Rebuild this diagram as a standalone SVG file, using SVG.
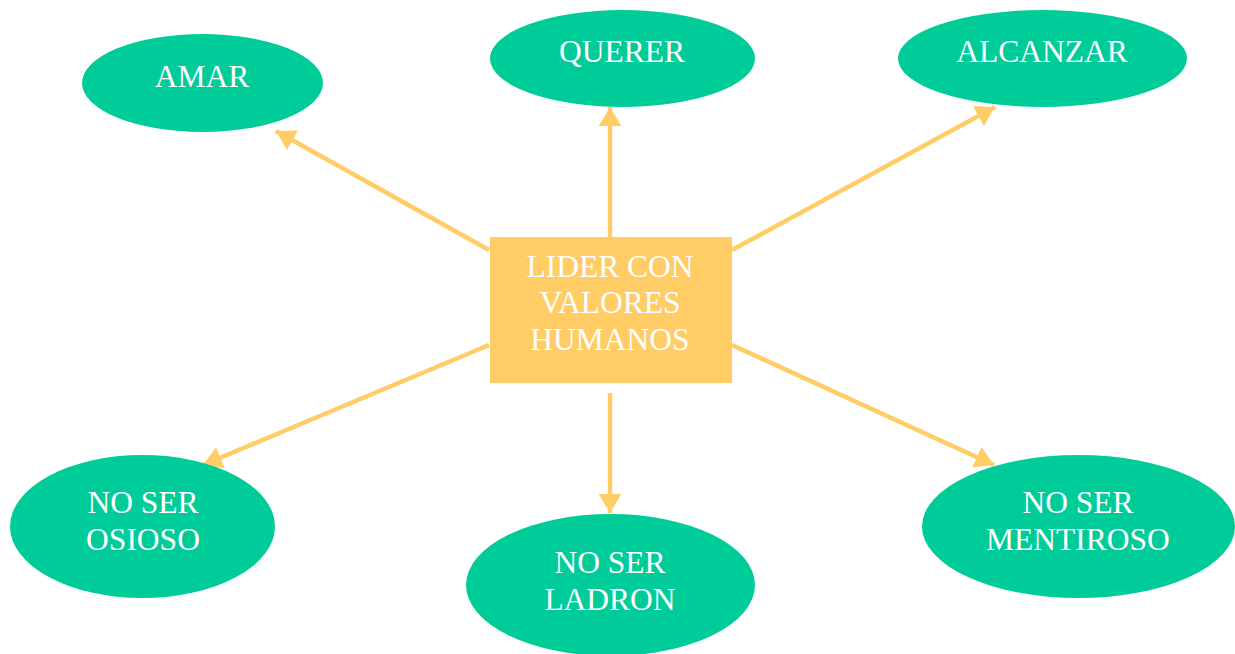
<svg xmlns="http://www.w3.org/2000/svg" width="1235" height="654" viewBox="0 0 1235 654">
<style>
.n{fill:#00CC99}
.c{fill:#FFCC66}
.t{font-family:"Liberation Serif","Times New Roman",serif;font-size:31.5px;fill:#FFFFFF;text-anchor:middle}
.a{stroke:#FFCC66;stroke-width:4.5;fill:none;marker-end:url(#ah)}
</style>
<defs>
<marker id="ah" markerWidth="5" markerHeight="5" refX="4.2" refY="2.5" orient="auto" markerUnits="strokeWidth" viewBox="0 0 5 5">
<path d="M0,0 L4.2,2.5 L0,5 Z" fill="#FFCC66"/>
</marker>
</defs>
<rect width="1235" height="654" fill="#FFFFFF"/>
<g id="connectors">
<line class="a" x1="489" y1="250" x2="276" y2="131"/>
<line class="a" x1="610" y1="237" x2="610" y2="107"/>
<line class="a" x1="732" y1="250" x2="995" y2="107"/>
<line class="a" x1="489" y1="345" x2="203" y2="465"/>
<line class="a" x1="610" y1="393" x2="610" y2="513"/>
<line class="a" x1="732" y1="345" x2="994" y2="465"/>
</g>
<g id="center">
<rect class="c" x="490" y="237" width="242" height="146"/>
<text class="t" x="610" y="277">LIDER CON</text>
<text class="t" x="610" y="313">VALORES</text>
<text class="t" x="610" y="350">HUMANOS</text>
</g>
<g id="amar">
<ellipse class="n" cx="202.5" cy="83" rx="120.5" ry="49"/>
<text class="t" x="202" y="87">AMAR</text>
</g>
<g id="querer">
<ellipse class="n" cx="622.5" cy="58.5" rx="132.5" ry="48.5"/>
<text class="t" x="622" y="62">QUERER</text>
</g>
<g id="alcanzar">
<ellipse class="n" cx="1042.5" cy="58.5" rx="144.5" ry="48.5"/>
<text class="t" x="1042" y="62">ALCANZAR</text>
</g>
<g id="osioso">
<ellipse class="n" cx="142.5" cy="526.5" rx="132.5" ry="71.5"/>
<text class="t" x="143" y="513">NO SER</text>
<text class="t" x="143" y="550">OSIOSO</text>
</g>
<g id="ladron">
<ellipse class="n" cx="610.5" cy="585" rx="144.5" ry="71"/>
<text class="t" x="610" y="573">NO SER</text>
<text class="t" x="610" y="610">LADRON</text>
</g>
<g id="mentiroso">
<ellipse class="n" cx="1078.5" cy="526.5" rx="156.5" ry="71.5"/>
<text class="t" x="1078" y="513">NO SER</text>
<text class="t" x="1078" y="550">MENTIROSO</text>
</g>
</svg>
